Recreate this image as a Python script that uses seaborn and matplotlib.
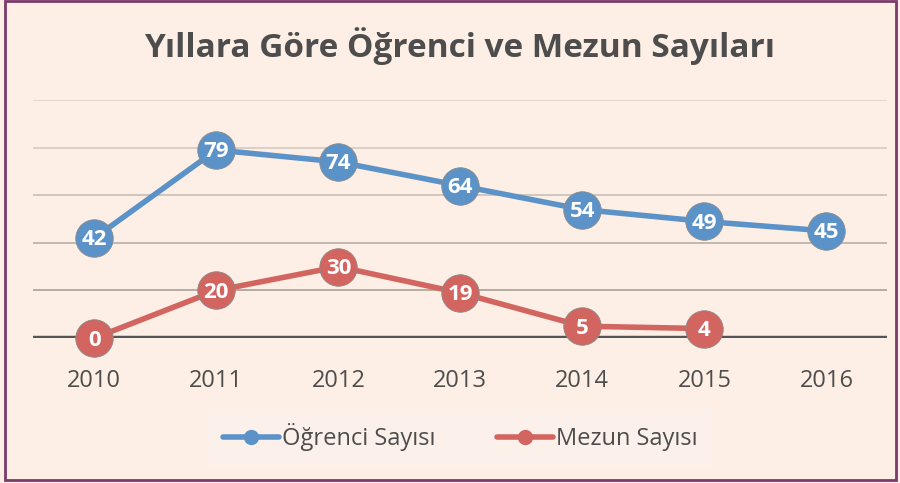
import pandas as pd
import numpy as np
import matplotlib.pyplot as plt
import seaborn as sns
from matplotlib.lines import Line2D
from matplotlib.patches import Rectangle

years = ["2010", "2011", "2012", "2013", "2014", "2015", "2016"]
ogrenci = [42, 79, 74, 64, 54, 49, 45]
mezun = [0, 20, 30, 19, 5, 4]

title = "Yıllara Göre Öğrenci ve Mezun Sayıları"
label_ogr = "Öğrenci Sayısı"
label_mez = "Mezun Sayısı"

BG = "#FDEFE5"
BLUE = "#5B93C9"
RED = "#D2655F"
TEXT = "#4D4D4D"

sns.set_theme(style="white")
plt.rcParams["font.family"] = ["Open Sans", "DejaVu Sans"]

df_ogr = pd.DataFrame({"x": np.arange(len(ogrenci)), "y": ogrenci})
df_mez = pd.DataFrame({"x": np.arange(len(mezun)), "y": mezun})

fig = plt.figure(figsize=(9, 4.83), dpi=100)
fig.patch.set_facecolor(BG)
ax = fig.add_axes([0.037, 0.30, 0.949, 0.493])
ax.set_facecolor(BG)

# gridlines, fading towards the top
for v, c in zip([20, 40, 60, 80, 100], ["#A8A099", "#B8AFA7", "#C8BFB7", "#D3CAC2", "#DDD5CD"]):
    ax.axhline(v, color=c, lw=1.2, zorder=1)
ax.axhline(0, color="#555555", lw=3.2, zorder=2)

for d, col in [(df_ogr, BLUE), (df_mez, RED)]:
    sns.lineplot(data=d, x="x", y="y", ax=ax, color=col, lw=4, marker="o",
                 markersize=27, markeredgecolor="#8A8A8A", markeredgewidth=0.6,
                 legend=False, zorder=3, clip_on=False)
    for xi, yi in zip(d["x"], d["y"]):
        ax.text(xi, yi - 0.8, str(yi), ha="center", va="center", color="white",
                fontsize=16, fontweight="bold", zorder=5)

ax.set_xlim(-0.5, len(years) - 0.5)
ax.set_ylim(0, 100)
ax.set_xticks(range(len(years)))
ax.set_xticklabels(years, fontsize=17, color=TEXT)
ax.tick_params(axis="x", length=0, pad=22)
ax.set_yticks([])
ax.set_xlabel("")
ax.set_ylabel("")
for s in ax.spines.values():
    s.set_visible(False)

fig.text(0.511, 0.905, title, ha="center", va="center", fontsize=24,
         fontweight="bold", color=TEXT)

handles = [
    Line2D([0], [0], color=BLUE, lw=4, marker="o", markersize=10),
    Line2D([0], [0], color=RED, lw=4, marker="o", markersize=10),
]
leg = fig.legend(handles, [label_ogr, label_mez], loc="center", bbox_to_anchor=(0.511, 0.095),
                 ncol=2, frameon=True, fontsize=17, handlelength=2.4, handletextpad=0.1,
                 columnspacing=2.6, borderpad=0.65, borderaxespad=0, fancybox=False)
leg.get_frame().set_facecolor("#FBF2EC")
leg.get_frame().set_edgecolor("none")
for t in leg.get_texts():
    t.set_color(TEXT)

fig.add_artist(Rectangle((0.005, 0.006), 0.991, 0.992, transform=fig.transFigure,
                         fill=False, ec="#7B3B6B", lw=2))

fig.savefig("out.png", dpi=100, facecolor=BG)
